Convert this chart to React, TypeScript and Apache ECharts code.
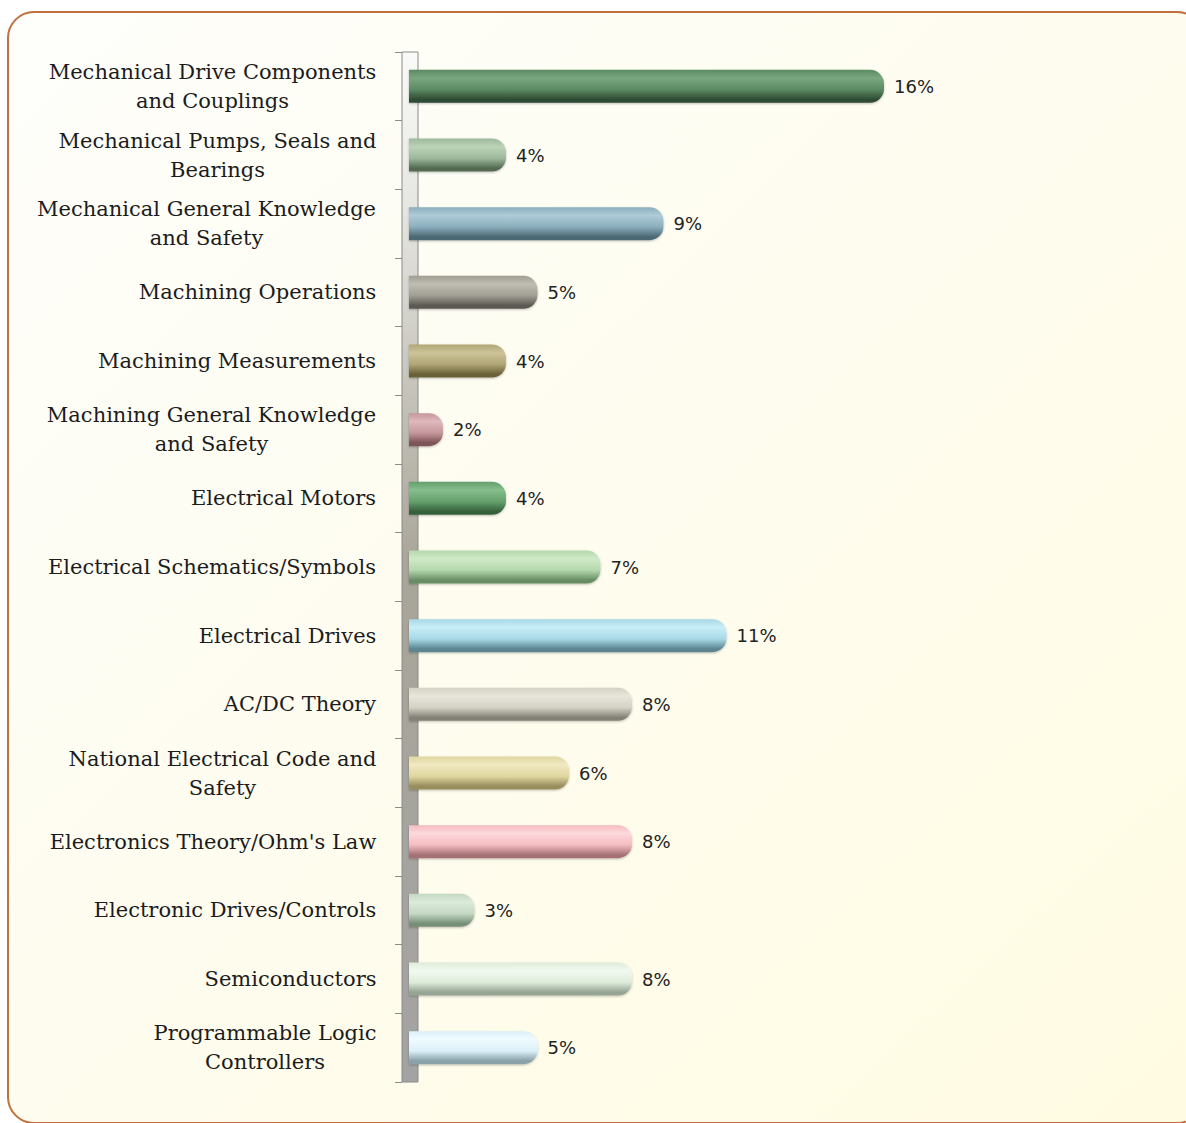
import React, { useEffect, useRef } from 'react';
import * as echarts from 'echarts';

const categories: string[] = [
  'Mechanical Drive Components\nand Couplings',
  'Mechanical Pumps, Seals and\nBearings',
  'Mechanical General Knowledge\nand Safety',
  'Machining Operations',
  'Machining Measurements',
  'Machining General Knowledge\nand Safety',
  'Electrical Motors',
  'Electrical Schematics/Symbols',
  'Electrical Drives',
  'AC/DC Theory',
  'National Electrical Code and\nSafety',
  "Electronics Theory/Ohm's Law",
  'Electronic Drives/Controls',
  'Semiconductors',
  'Programmable Logic\nControllers',
];

const values: number[] = [16, 4, 9, 5, 4, 2, 4, 7, 11, 8, 6, 8, 3, 8, 5];

// [light, mid, dark] per bar
const barPalette: string[][] = [
  ['#7aa780', '#5b8a62', '#2e4b34'],
  ['#bcd3b8', '#9db89a', '#526b51'],
  ['#aecbd7', '#8aaebc', '#4b6874'],
  ['#c0bdb2', '#a09d93', '#5c5952'],
  ['#ccc498', '#b0a676', '#6a6137'],
  ['#e0b9bd', '#c4979b', '#7c5457'],
  ['#86be8d', '#64a06c', '#35603b'],
  ['#cfeac8', '#b4d8ac', '#688c64'],
  ['#c8eef8', '#a8d8e6', '#5b8591'],
  ['#e8e6db', '#d4d2c4', '#838177'],
  ['#f0e9c2', '#e0d6a0', '#978d5d'],
  ['#fdd9dc', '#f4bcc0', '#a57175'],
  ['#dcebda', '#c4d8c4', '#778f76'],
  ['#f2faf0', '#deecda', '#95a593'],
  ['#f0fbff', '#dcf0f8', '#89a1a9'],
];

const W = 1186;
const H = 1123;
const GRID_LEFT = 409;
const GRID_TOP = 52;
const GRID_BOTTOM = 41;
const GRID_RIGHT = 18.5;
const X_MIN = 0.92;
const X_MAX = 25;
const LABEL_FONT_FAMILY = '"DejaVu Serif", serif';
const LABEL_FONT_SIZE = 21;
const VALUE_FONT = '"DejaVu Sans", sans-serif';

function barGradient(i: number) {
  const [light, mid, dark] = barPalette[i];
  return new echarts.graphic.LinearGradient(0, 0, 0, 1, [
    { offset: 0, color: mid },
    { offset: 0.25, color: light },
    { offset: 0.6, color: mid },
    { offset: 0.9, color: dark },
    { offset: 1, color: dark },
  ]);
}

function buildRich() {
  const canvas = document.createElement('canvas');
  const ctx = canvas.getContext('2d') as CanvasRenderingContext2D;
  ctx.font = `${LABEL_FONT_SIZE}px ${LABEL_FONT_FAMILY}`;
  const rich: Record<string, any> = {};
  categories.forEach((c, i) => {
    const w = Math.max(...c.split('\n').map((l) => ctx.measureText(l).width));
    rich['c' + i] = {
      width: Math.ceil(w) + 1,
      align: 'center',
      fontFamily: LABEL_FONT_FAMILY,
      fontSize: LABEL_FONT_SIZE,
      lineHeight: 29,
      color: '#1c1c1c',
    };
  });
  return rich;
}

export default function App() {
  const ref = useRef<HTMLDivElement>(null);
  useEffect(() => {
    const chart = echarts.init(ref.current as HTMLDivElement, null, { renderer: 'svg' });
    const gridH = H - GRID_TOP - GRID_BOTTOM;
    chart.setOption({
      animation: false,
      graphic: [
        {
          type: 'rect',
          z: -10,
          silent: true,
          shape: { x: 8, y: 12, width: 1195, height: 1111, r: 26 },
          style: {
            fill: new echarts.graphic.LinearGradient(0, 0, 1, 1, [
              { offset: 0, color: '#fefefb' },
              { offset: 1, color: '#fffbe2' },
            ]),
            stroke: '#c0703c',
            lineWidth: 2,
          },
        },
        {
          type: 'rect',
          z: 1,
          silent: true,
          shape: { x: GRID_LEFT - 7, y: GRID_TOP, width: 16, height: gridH },
          style: {
            fill: new echarts.graphic.LinearGradient(0, 0, 0, 1, [
              { offset: 0, color: '#fafaf8' },
              { offset: 0.15, color: '#e6e6e2' },
              { offset: 0.35, color: '#c2bfb6' },
              { offset: 0.5, color: '#a9a599' },
              { offset: 1, color: '#a3a3a3' },
            ]),
            stroke: '#8a8a8a',
            lineWidth: 1,
          },
        },
      ],
      grid: { left: GRID_LEFT, right: GRID_RIGHT, top: GRID_TOP, bottom: GRID_BOTTOM },
      xAxis: { type: 'value', min: X_MIN, max: X_MAX, show: false },
      yAxis: {
        type: 'category',
        data: categories,
        inverse: true,
        offset: 7,
        axisLine: { show: false },
        axisTick: { show: true, length: 7, lineStyle: { color: '#8c8c8c', width: 1 } },
        splitLine: { show: false },
        axisLabel: {
          margin: 25,
          formatter: (v: string, idx: number) =>
            v
              .split('\n')
              .map((l) => `{c${idx}|${l}}`)
              .join('\n'),
          rich: buildRich(),
        },
      },
      series: [
        {
          type: 'bar',
          data: values.map((v, i) => ({ value: v, itemStyle: { color: barGradient(i) } })),
          barWidth: 33,
          clip: true,
          itemStyle: {
            borderRadius: [0, 14, 14, 0],
            shadowBlur: 2,
            shadowColor: 'rgba(0,0,0,0.25)',
            shadowOffsetY: 1,
          },
          label: {
            show: true,
            position: 'right',
            distance: 10,
            formatter: '{c}%',
            fontFamily: VALUE_FONT,
            fontSize: 18,
            color: '#222222',
          },
        },
      ],
    });
    return () => chart.dispose();
  }, []);
  return (
    <div
      ref={ref}
      style={{ position: 'absolute', left: 0, top: 0, width: W, height: H }}
    />
  );
}
